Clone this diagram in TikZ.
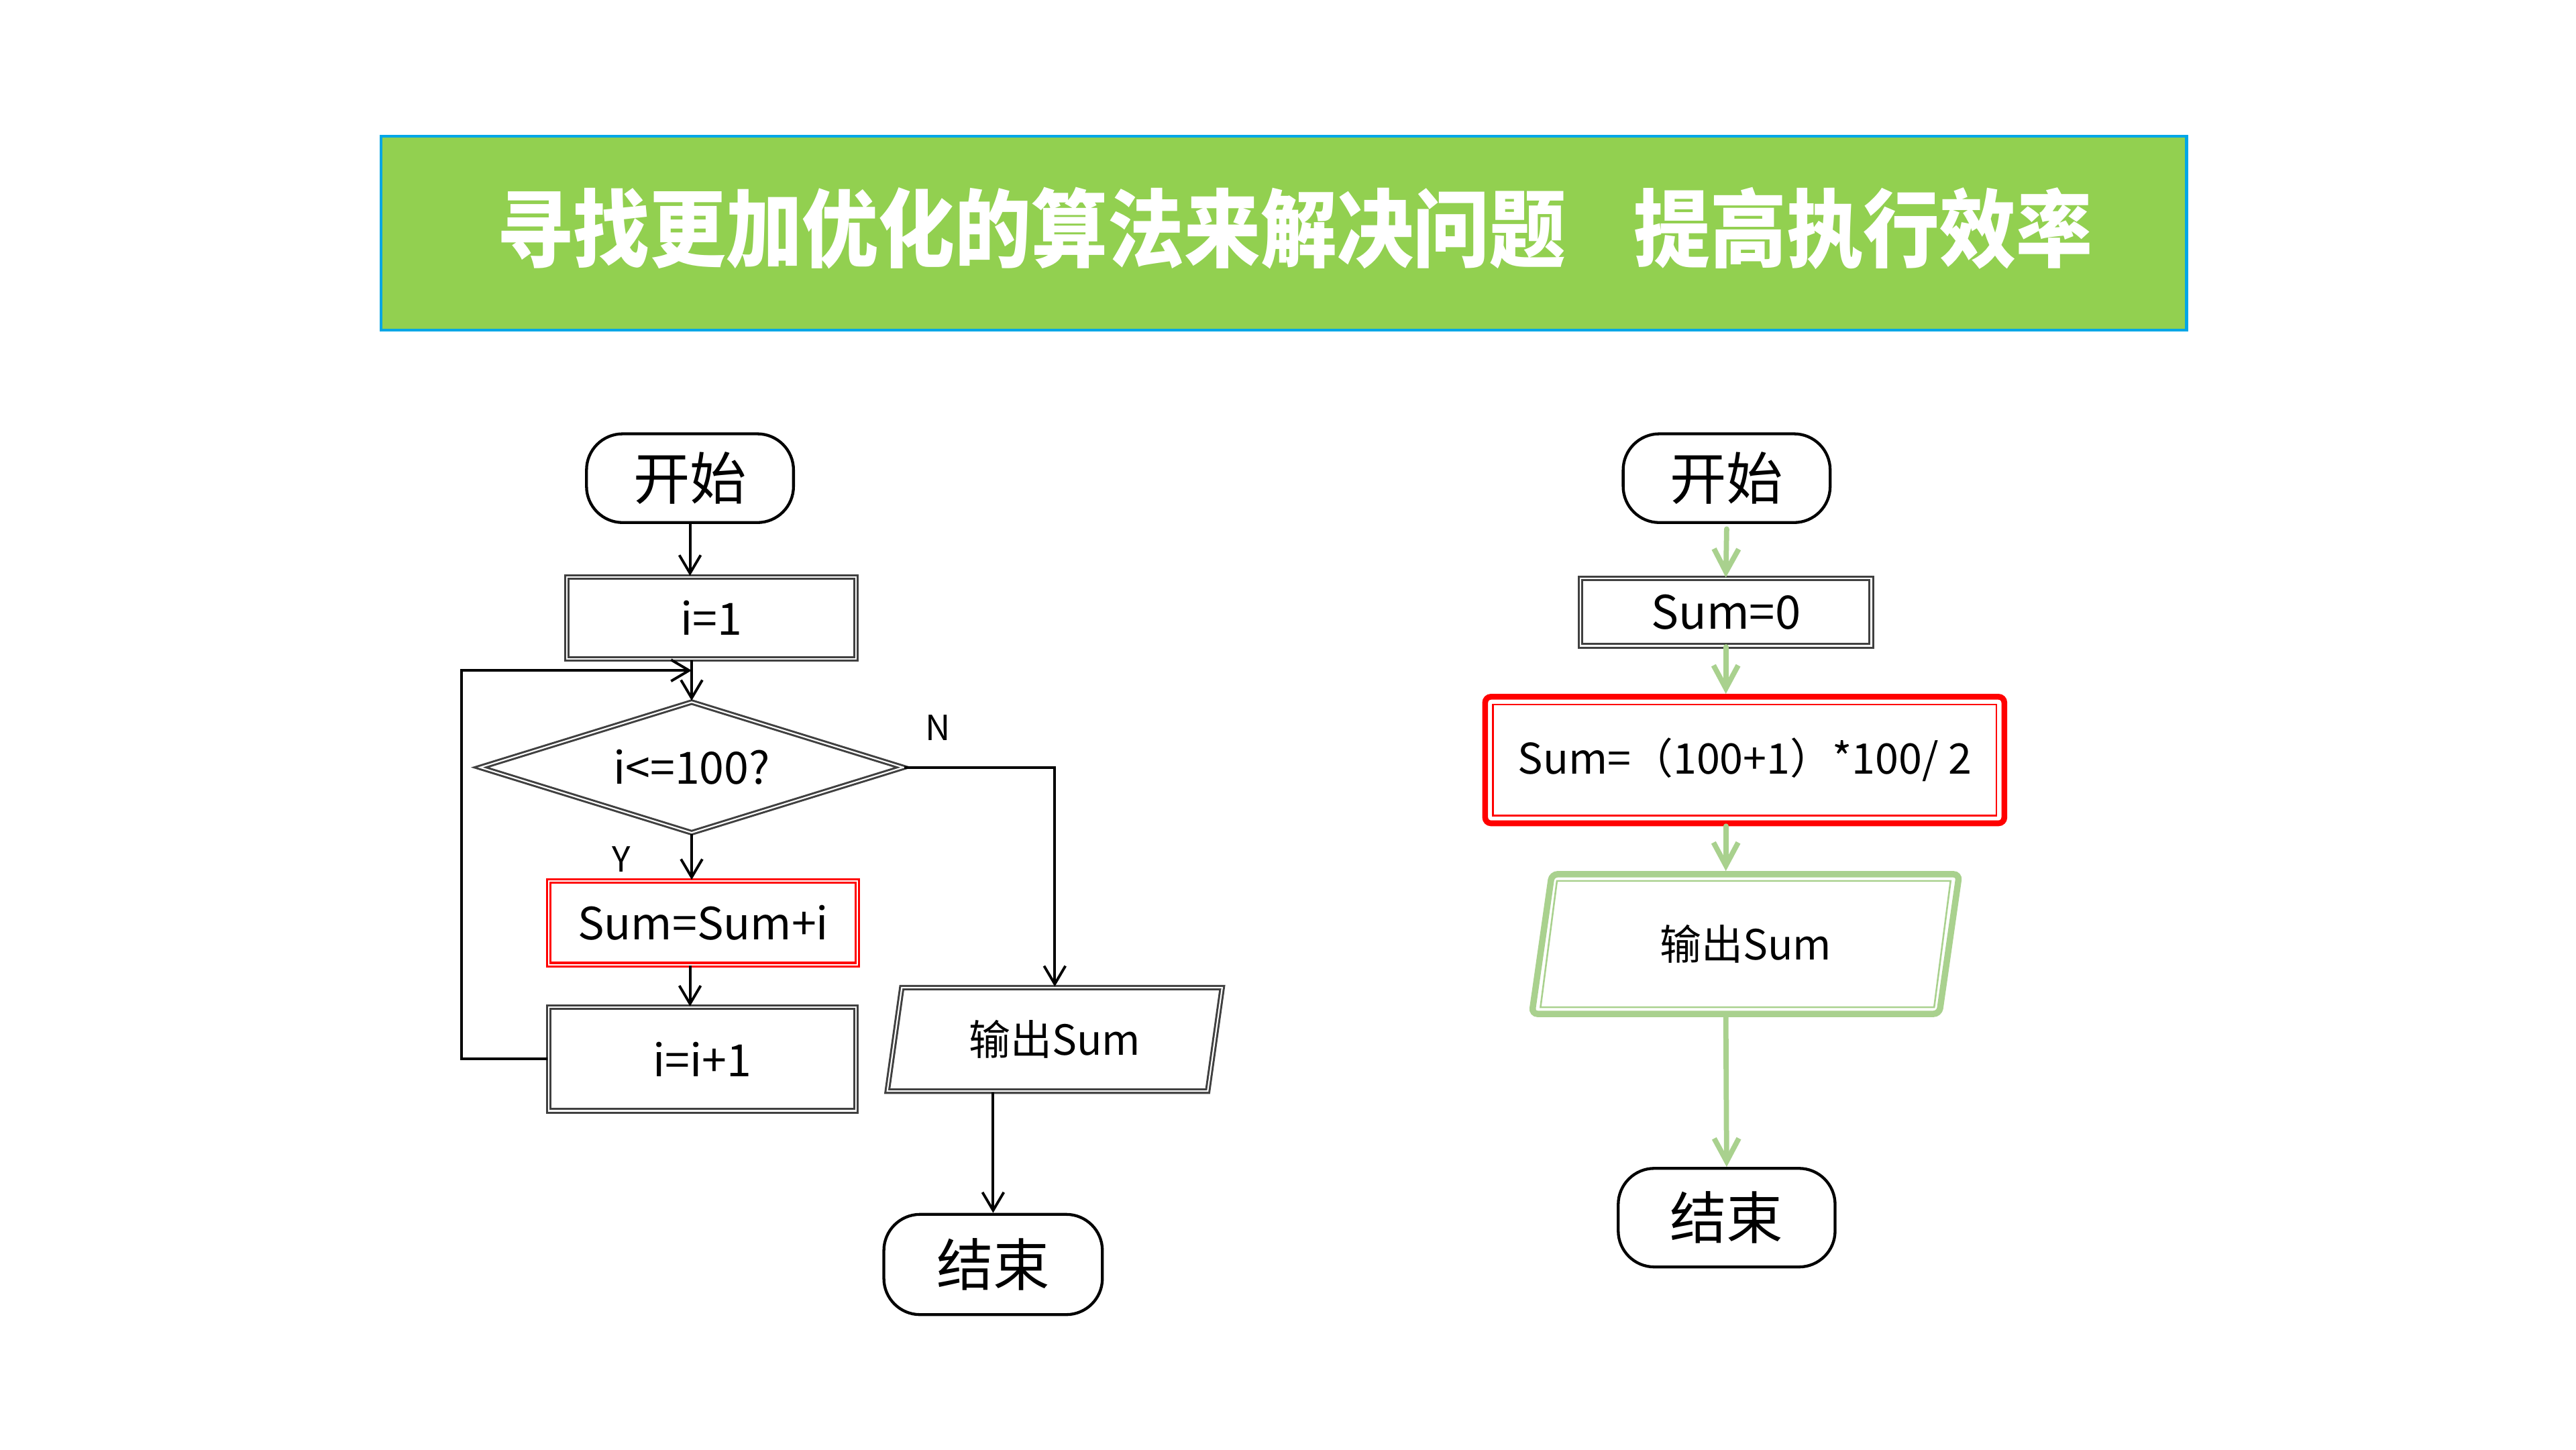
\documentclass[tikz,border=0pt]{standalone}
\usepackage{fontspec}
\setmainfont{Noto Sans CJK SC}
\newfontfamily\titlefont{Noto Sans CJK SC}[FakeStretch=0.9]
\usepackage{tikz}
\usetikzlibrary{shapes.geometric,arrows.meta}
\definecolor{bannergreen}{RGB}{146,208,80}
\definecolor{bannerblue}{RGB}{0,166,230}
\definecolor{flowgreen}{RGB}{169,209,142}
\definecolor{boxgray}{RGB}{64,64,64}
\tikzstyle{terminal}=[
        draw=black,
        line width=0.5pt,
        rounded corners=0.22cm,
        inner sep=0pt,
        font=\fontsize{9.8}{11}\selectfont
]
\tikzstyle{process}=[
        draw=boxgray,
        line width=0.35pt,
        double=white,
        double distance=0.25pt,
        inner sep=0pt,
        font=\fontsize{7.7}{10}\selectfont
]
\tikzstyle{hot}=[
        process,
        draw=red
]
\tikzstyle{decision}=[
        process,
        diamond,
        aspect=3.2
]
\tikzstyle{io}=[
        trapezium,
        trapezium stretches=true,
        inner sep=0pt,
        font=\fontsize{7.2}{9}\selectfont
]
\tikzstyle{flow}=[
        -{Straight Barb[length=1.1mm,width=1.3mm]},
        line width=0.45pt
]
\tikzstyle{greenflow}=[
        -{Straight Barb[length=1.4mm,width=1.5mm]},
        draw=flowgreen,
        line width=0.9pt,
        line cap=round
]

\begin{document}
\begin{tikzpicture}
                        \useasboundingbox (0,0) rectangle (15.68,8.82);

                        % banner
                        \draw[fill=bannergreen, draw=bannerblue, line width=0.5pt] (2.32,6.81) rectangle (13.31,7.99);
                        \node[text=white] (title) at (7.88,7.43) {\titlefont\bfseries\fontsize{14.7}{16}\selectfont 寻找更加优化的算法来解决问题\hspace{0.8em}提高执行效率};

                        % loop version
                        \node[terminal, minimum width=1.26cm, minimum height=0.54cm] (start1) at (4.20,5.91) {开始};
                        \node[process, minimum width=1.76cm, minimum height=0.50cm] (init1) at (4.33,5.06) {i=1};
                        \node[decision, minimum width=2.58cm, minimum height=0.80cm] (cond) at (4.21,4.15) {i<=100?};
                        \node[hot, minimum width=1.88cm, minimum height=0.51cm] (acc) at (4.28,3.205) {Sum=Sum+i};
                        \node[process, minimum width=1.87cm, minimum height=0.63cm] (inc) at (4.275,2.375) {i=i+1};
                        \node[process, io, trapezium left angle=78, trapezium right angle=102, minimum width=2.04cm, minimum height=0.63cm] (out1) at (6.42,2.495) {输出Sum};
                        \node[terminal, minimum width=1.33cm, minimum height=0.61cm] (stop1) at (6.045,1.125) {结束};
                        \node[font=\fontsize{6}{7}\selectfont] (no) at (5.71,4.39) {N};
                        \node[font=\fontsize{6}{7}\selectfont] (yes) at (3.78,3.59) {Y};
                        \coordinate (back) at (2.81,4.74);

                        \draw[flow] (start1.south) -- (start1.south |- init1.north);
                        \draw[flow] (cond.north |- init1.south) -- (cond.north);
                        \draw[flow] (cond.south) -- (cond.south |- acc.north);
                        \draw[flow] ([xshift=-0.08cm]acc.south) -- ([xshift=-0.08cm]acc.south |- inc.north);
                        \draw[flow] (inc.west) -| (back) -- (back -| cond.north);
                        \draw[flow] (cond.east) -| (out1.north);
                        \draw[flow] (stop1.north |- out1.south) -- (stop1.north);

                        % formula version
                        \node[terminal, minimum width=1.26cm, minimum height=0.54cm] (start2) at (10.51,5.91) {开始};
                        \node[process, minimum width=1.77cm, minimum height=0.41cm, font=\fontsize{8}{10}\selectfont] (init2) at (10.505,5.095) {Sum=0};
                        \node[draw=red, line width=1pt, rounded corners=1pt, inner sep=0pt, minimum width=3.16cm, minimum height=0.77cm, font=\fontsize{7.3}{9}\selectfont] (calc) at (10.62,4.195) {Sum=（100+1）*100/ 2};
                        \draw[red, line width=0.3pt] ([shift={(0.065,0.065)}]calc.south west) rectangle ([shift={(-0.065,-0.065)}]calc.north east);
                        \node[io, draw=flowgreen, line width=1.1pt, rounded corners=1pt, trapezium left angle=77, trapezium right angle=103, minimum width=2.61cm, minimum height=0.85cm] (out2) at (10.625,3.075) {输出Sum};
                        \draw[flowgreen, line width=0.3pt] ([shift={(0.075,0.06)}]out2.bottom left corner) -- ([shift={(-0.048,0.06)}]out2.bottom right corner)
                            -- ([shift={(-0.075,-0.06)}]out2.top right corner) -- ([shift={(0.048,-0.06)}]out2.top left corner) -- cycle;
                        \node[terminal, minimum width=1.32cm, minimum height=0.60cm] (stop2) at (10.51,1.41) {结束};

                        \draw[greenflow] ([yshift=-0.03cm]start2.south) -- (init2.north);
                        \draw[greenflow] (init2.south) -- (init2.south |- calc.north);
                        \draw[greenflow] (init2.south |- calc.south) -- (init2.south |- out2.north);
                        \draw[greenflow] (init2.south |- out2.south) -- (stop2.north);
                    \end{tikzpicture}
\end{document}
